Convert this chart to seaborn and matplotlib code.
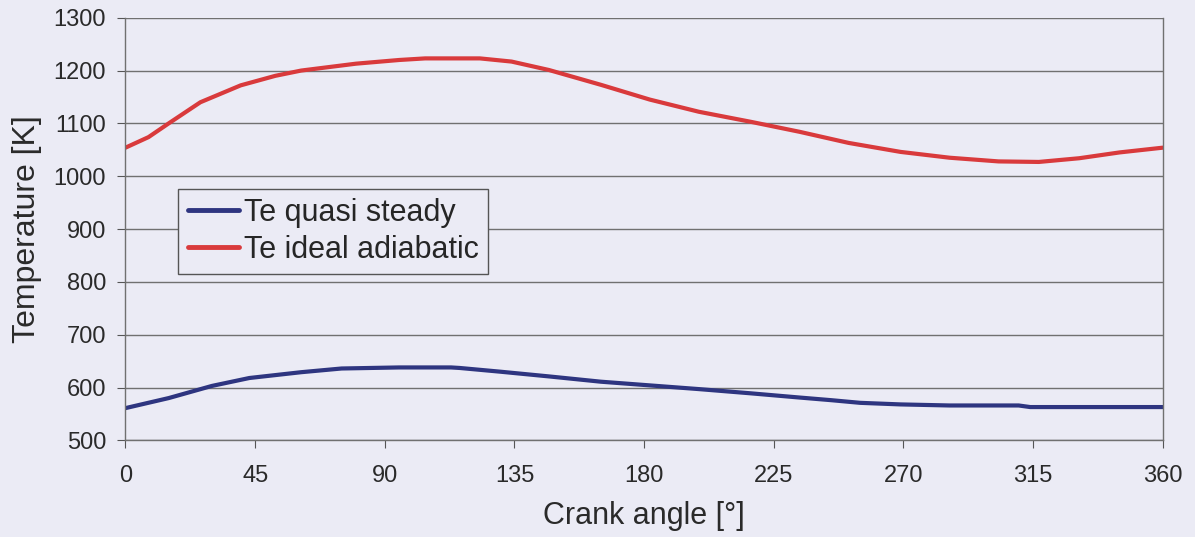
import pandas as pd
import matplotlib.pyplot as plt
import seaborn as sns

# Data
angle_quasi = [0, 15, 30, 43, 61, 75, 95, 113, 116, 130, 147, 165, 182, 199, 217, 234,
               245, 255, 269, 286, 310, 314, 360]
te_quasi = [561, 580, 603, 618, 629, 636, 638, 638, 637, 630, 621, 611, 604, 597, 589, 581,
            576, 571, 568, 566, 566, 563, 563]

angle_ideal = [0, 8, 15, 26, 40, 52, 61, 80, 95, 104, 123, 134, 147, 165, 182, 199, 217, 234,
               251, 269, 286, 303, 317, 331, 345, 360]
te_ideal = [1054, 1074, 1100, 1140, 1172, 1190, 1200, 1213, 1220, 1223, 1223, 1217, 1201,
            1173, 1145, 1122, 1103, 1084, 1063, 1046, 1035, 1028, 1027, 1034, 1045, 1054]

df = pd.concat([
    pd.DataFrame({'angle': angle_quasi, 'temp': te_quasi, 'series': 'Te quasi steady'}),
    pd.DataFrame({'angle': angle_ideal, 'temp': te_ideal, 'series': 'Te ideal adiabatic'}),
])

bg = '#EBEBF5'
sns.set_style('white')
plt.rcParams['font.family'] = ['Liberation Sans', 'DejaVu Sans']

fig, ax = plt.subplots(figsize=(11.95, 5.37), dpi=100)
fig.patch.set_facecolor(bg)
ax.set_facecolor(bg)

sns.lineplot(data=df, x='angle', y='temp', hue='series', sort=False,
             palette={'Te quasi steady': '#2E3580', 'Te ideal adiabatic': '#D93A3C'},
             linewidth=3, ax=ax)

ax.set_xlim(0, 360)
ax.set_ylim(500, 1300)
ax.set_xticks(range(0, 361, 45))
ax.set_yticks(range(500, 1301, 100))
ax.yaxis.grid(True, color='#707070', linewidth=1)
ax.xaxis.grid(False)
ax.tick_params(axis='both', labelsize=17, colors='#555555', length=6, direction='out',
               bottom=True, left=True, labelcolor='#2a2a2a')
ax.tick_params(axis='y', pad=8)
ax.tick_params(axis='x', pad=12)
for side in ['left', 'bottom', 'right']:
    ax.spines[side].set_color('#707070')
    ax.spines[side].set_linewidth(1)
ax.spines['top'].set_visible(False)

ax.set_xlabel('Crank angle [°]', fontsize=22, color='#2a2a2a', labelpad=10)
ax.set_ylabel('Temperature [K]', fontsize=23, color='#2a2a2a', labelpad=8)

leg = ax.legend(loc='upper left', bbox_to_anchor=(0.051, 0.595), fontsize=22,
                frameon=True, fancybox=False, handlelength=1.7, handletextpad=0.15,
                borderpad=0.3, labelspacing=0.22, borderaxespad=0)
leg.get_frame().set_edgecolor('#555555')
leg.get_frame().set_facecolor(bg)
leg.get_frame().set_alpha(1)
for line in leg.get_lines():
    line.set_linewidth(3.5)

plt.subplots_adjust(left=0.105, right=0.973, top=0.967, bottom=0.18)
plt.savefig('out.png', dpi=100, facecolor=bg)
